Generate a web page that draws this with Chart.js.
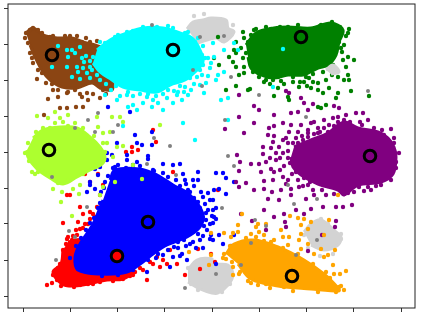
<!DOCTYPE html>
<html>
<head>
<meta charset="utf-8">
<title>Clusters</title>
<script src="https://cdn.jsdelivr.net/npm/chart.js@4"></script>
<style>
  html, body { margin: 0; padding: 0; background: #fff; }
  canvas { display: block; }
</style>
</head>
<body>
<canvas id="chart" width="423" height="315"></canvas>
<script>
/* ================= DATA ================= */
// axes carry no numbers in the picture, so units are read from the lower left corner
// *Solid = outline of the part of a cluster where the dots merge into one mass

const xTicks = [15, 62.25, 109.5, 156.75, 204, 251.25, 298.5, 345.75, 393];
const yTicks = [12, 48, 84, 120, 156, 192, 228, 263, 300];

const silverSolidTop = [[179,279],[185,286],[195,288],[203,290],[218,288],[220,280],[226,276],[216,266],[208,270],[190,265]];
const silverSolidLow = [[180,38],[189,48],[204,49],[203,44],[220,43],[225,33],[220,23],[210,15],[204,15],[192,19],[180,26]];
const silverSolidRight = [[296,76],[303,84],[313,88],[328,76],[333,71],[330,63],[316,58],[303,63]];
const silverSolidSmall = [[318,238],[325,243],[331,236],[323,234]];
const silverDots = [[201,17],[214,16],[180,40],[183,24],[190,18],[222,24],[222,40],[186,292],[196,294],[225,283],
  [313,89],[333,74],[333,69],[296,73],[304,84],[320,84],[300,60],[312,52],[325,54]];
const grayDots = [[144,283],[80,188],[90,195],[110,183],[87,176],[105,176],[67,180],[162,162],[146,170],[194,222],
  [185,238],[192,271],[216,272],[360,217],[251,213],[217,188],[220,152],[223,231],[298,191],[44,131],
  [61,77],[48,48],[79,101],[67,71],[168,133],[139,144],[177,20],[226,142],[214,100],[280,123],
  [286,104],[309,109],[247,88],[258,82],[309,68],[288,53],[233,43],[208,34],[243,65]];

const redSolid = [[60,66],[75,68],[125,40],[125,36],[115,29],[99,28],[80,24],[64,22],[54,24],[45,36],[53,44],[55,58]];
const redDots = [[39,23],[44,25],[49,28],[47,37],[52,44],[57,54],[55,85],[59,69],[64,68],[70,86],
  [72,101],[75,94],[82,96],[69,73],[72,79],[77,84],[82,89],[89,101],[92,94],[87,91],
  [97,106],[92,113],[90,134],[77,134],[59,113],[62,113],[82,126],[95,123],[100,113],[55,26],
  [62,23],[72,23],[80,24],[92,26],[105,28],[115,29],[119,36],[127,36],[139,28],[130,44],
  [145,44],[152,41],[159,44],[169,44],[149,51],[162,58],[165,136],[177,33],[192,39],[190,59],
  [60,71],[145,178],[148,166],[124,161],[124,156],[118,156],[130,158],[210,118],[207,46],[203,54],
  [45,33],[50,40],[53,22],[66,21],[85,24],[105,27],[125,33],[135,38],[55,58],[58,64],
  [65,72],[63,60],[122,32],[80,84],[85,94],[75,80],[68,78],[132,40],[142,46],[155,48]];

const blueSolid = [[102,128],[107,138],[132,139],[149,133],[165,123],[182,113],[195,94],[192,81],[179,71],[159,63],[145,54],[135,46],[119,36],[92,34],[70,38],[67,51],[72,64],[85,84],[95,108]];
const blueDots = [[99,148],[107,141],[119,148],[129,146],[140,149],[145,138],[155,144],[165,143],[172,144],[175,134],
  [190,136],[185,128],[195,111],[202,108],[200,98],[202,84],[199,78],[202,69],[192,68],[185,76],
  [182,64],[174,54],[179,48],[165,51],[162,41],[155,53],[139,36],[82,123],[79,116],[87,119],
  [90,133],[92,141],[87,139],[82,126],[190,128],[177,128],
  [100,201],[122,196],[127,173],[99,155],[109,165],[129,165],[134,163],[144,176],[144,163],[140,152],
  [119,153],[104,153],[208,135],[215,135],[218,130],[226,126],[206,118],[211,119],[218,114],[205,108],
  [205,98],[208,89],[206,91],[203,73],[211,73],[226,73],[215,64],[223,62],[208,44],[205,68],
  [105,140],[118,140],[132,142],[146,137],[160,131],[172,122],[182,116],[190,106],[198,95],[196,82],
  [190,74],[176,68],[166,61],[150,54],[140,48],[125,38],[110,33],[94,32],[80,36],[70,39],
  [62,50],[68,62],[78,78],[86,90],[92,105],[96,120],[205,85],[200,115],[170,60],
  [186,110],[192,100],[180,118],[168,128],[155,135],[100,132],[110,143],[125,143],[97,126],[93,116],
  [90,100],[82,85],[73,70],[185,66],[178,62],[160,58],[195,72],[172,52],[148,50],
  [204,92],[208,100],[197,104],[193,116],[186,122],[178,124],[198,88],[188,60],[195,60],[170,66]];

const brownSolid = [[18,275],[25,280],[35,273],[49,270],[64,270],[75,266],[87,263],[95,260],[109,251],[105,228],[104,218],[92,220],[84,225],[69,220],[54,221],[42,228],[35,236],[27,251],[22,263]];
const brownDots = [[18,275],[22,278],[25,280],[34,275],[42,271],[57,272],[69,272],[74,266],[82,266],[20,265],
  [22,255],[25,245],[29,229],[34,235],[44,224],[45,218],[40,209],[50,211],[59,215],[74,211],
  [79,215],[80,208],[92,210],[95,218],[102,223],[67,218],[52,200],[59,200],[68,201],[75,201],
  [36,193],[107,270],[89,267],[60,216],[72,214],[85,214],[98,214],[50,218],[38,225],[30,238],
  [24,250],[17,270],[30,278],[45,272],[62,272],[78,270],[100,226]];

const limeSolid = [[25,170],[35,178],[52,181],[69,180],[82,171],[92,161],[97,151],[94,144],[82,138],[69,131],[55,124],[42,130],[29,139],[20,151],[19,158]];
const limeDots = [[29,192],[47,196],[40,190],[52,190],[60,193],[55,186],[67,185],[89,191],[90,181],[104,191],
  [112,191],[115,186],[152,183],[95,175],[102,176],[99,165],[109,161],[115,162],[105,151],[35,180],
  [47,185],[24,136],[27,134],[34,138],[45,119],[54,116],[53,106],[64,92],[65,119],[72,123],
  [71,114],[107,126],[95,121],[134,129],[125,143],[92,113],
  [17,155],[21,147],[30,136],[40,134],[50,125],[60,128],[75,134],[88,141],[97,156],[95,165],
  [86,172],[75,180],[60,182],[42,180],[28,176],[20,165]];

const greenSolid = [[238,263],[248,275],[266,280],[280,281],[303,280],[323,285],[335,278],[331,266],[328,253],[320,243],[310,240],[295,233],[280,233],[265,230],[253,233],[243,240],[240,251]];
const greenDots = [[235,276],[243,273],[248,279],[228,266],[236,270],[221,251],[225,246],[228,241],[233,260],[235,250],
  [236,241],[231,233],[236,235],[210,271],[206,250],[211,243],[218,218],[228,222],[240,218],[242,219],
  [251,231],[256,226],[265,228],[273,227],[270,220],[266,212],[280,211],[281,208],[291,221],[301,230],
  [303,220],[310,225],[310,218],[315,215],[321,220],[330,215],[328,210],[310,201],[318,203],[313,200],
  [318,228],[330,231],[336,228],[341,228],[340,233],[343,217],[361,212],[338,241],[335,248],[346,248],
  [340,251],[333,260],[336,263],[341,279],[340,275],[331,266],[324,286],[313,283],[280,281],[263,279],
  [243,264],[238,255],[246,278],[258,281],[272,281],[290,283],[312,282],[332,281],[338,272],[334,256],
  [325,243],[245,236],[258,228],[270,231],[285,231],[298,231],[228,255],[240,266],[226,258],
  [296,226],[305,226],[292,226],[299,222],[305,234],[315,236],[324,233],[262,224],[276,224],[285,226]];

const purpleSolid = [[286,161],[303,168],[320,175],[336,186],[350,180],[370,176],[380,170],[386,161],[388,151],[385,134],[373,126],[350,123],[336,113],[330,118],[310,124],[293,133],[285,141],[283,151]];
const purpleDots = [[231,213],[278,217],[281,215],[293,210],[296,205],[246,202],[251,198],[231,191],[246,185],[266,193],
  [283,195],[290,196],[300,198],[305,204],[326,202],[331,200],[303,185],[316,188],[330,191],[338,193],
  [348,195],[355,195],[360,188],[366,180],[383,179],[376,173],[386,165],[217,179],[236,175],[261,180],
  [266,182],[275,185],[283,183],[293,183],[260,173],[266,172],[281,176],[290,176],[300,178],[310,180],
  [306,186],[321,183],[330,186],[336,188],[265,166],[275,168],[288,170],[300,171],[310,175],[320,176],
  [255,161],[263,160],[271,161],[280,165],[255,154],[229,153],[268,155],[275,155],
  [232,146],[243,144],[251,144],[258,146],[231,137],[253,136],[263,139],[266,136],[275,131],[228,126],
  [238,125],[256,127],[265,128],[278,124],[231,121],[246,118],[256,119],[264,116],[273,118],[283,119],
  [291,121],[300,123],[316,123],[330,123],[341,118],[351,121],[363,118],[383,128],[373,123],[388,146],
  [260,109],[271,108],[283,113],[298,109],[306,113],[318,113],[336,114],[256,98],[266,91],[276,94],
  [288,98],[296,94],[303,99],[315,101],[328,101],[335,101],[344,103],[233,94],[277,86],[244,87],
  [258,78],[278,81],[327,81],[328,87],[300,57],[314,73],
  [280,157],[282,145],[288,136],[296,130],[308,128],[320,122],[340,115],[360,121],[378,130],[388,140],
  [391,155],[386,170],[374,178],[354,183],[330,180],[312,176],[295,168],[285,165],[268,148],[272,138],
  [280,128],[295,122],[305,118],[272,150],[262,150],[278,170],[290,165],[300,175],[325,190],[340,180],
  [294,172],[306,174],[316,180],[326,182],[342,186],[352,186],[280,150],[276,142],[284,134],[290,128],
  [302,126],[314,118],[326,114],[346,116],[356,117],[368,122]];

const orangeSolid = [[218,54],[226,64],[246,68],[270,61],[296,48],[316,34],[331,19],[331,17],[303,19],[270,22],[243,29],[230,44]];
const orangeDots = [[336,18],[331,21],[338,37],[332,34],[326,34],[325,43],[318,36],[316,51],[320,53],[327,58],
  [313,59],[243,25],[250,23],[258,24],[276,21],[225,33],[231,34],[225,41],[218,49],[216,54],
  [223,71],[225,75],[230,76],[230,83],[216,75],[250,84],[248,81],[251,76],[258,84],[243,74],
  [273,78],[275,71],[281,71],[293,83],[290,90],[282,92],[296,89],[303,86],[300,79],[293,74],
  [291,68],[280,63],[293,59],[300,64],[306,54],[321,88],[316,73],[330,113],[234,94],[266,68],
  [256,73],[203,75],[263,66],[248,71],[181,56],[201,43],[203,53],
  [215,50],[222,62],[238,70],[256,67],[275,60],[290,54],[305,44],[322,30],[333,22],[310,16],
  [285,17],[262,20],[240,27],[232,36],[224,46],[328,16]];

const cyanSolid = [[89,258],[102,268],[119,275],[135,280],[155,280],[172,275],[184,270],[192,258],[195,246],[187,236],[177,228],[162,223],[149,216],[132,218],[115,221],[104,228],[92,236],[85,245]];
const cyanDots = [[50,262],[59,258],[64,258],[72,261],[60,251],[67,255],[74,250],[69,241],[59,241],[75,240],
  [82,241],[70,236],[79,235],[64,231],[72,229],[82,230],[89,233],[44,241],[85,251],[92,266],
  [107,271],[119,276],[135,281],[149,281],[165,280],[177,275],[187,266],[194,253],[195,243],[200,250],
  [189,231],[192,223],[196,215],[177,221],[169,213],[159,210],[174,208],[165,205],[145,208],[144,201],
  [155,198],[125,203],[120,201],[129,198],[109,208],[97,213],[175,185],[187,168],[115,182],[139,211],
  [119,213],[185,248],[192,238],[275,259],[205,265],[206,251],[216,258],[226,265],[230,258],[210,233],
  [216,236],[208,228],[213,208],[220,210],[220,188],[265,221],[203,245],
  [78,252],[82,247],[76,246],[84,238],[88,244],[92,228],[98,224],[108,222],[120,216],[132,214],
  [148,212],[160,218],[172,222],[182,230],[190,240],[197,250],[195,262],[190,270],[180,276],[160,282],
  [125,277],[110,273],[97,265],[150,205],[170,216],[183,218],[198,225],[200,232],[202,240],[180,213],
  [135,205],[112,212],[103,218],[125,212],[140,214],[155,214],[166,217],[176,216],[186,224],[194,233]];

const centers = [[44,253],[165,258],[293,271],[41,158],[362,152],[140,86],[109,52],[284,32]];
const centerColors = ["#8b4513", "#00ffff", "#008000", "#adff2f", "#800080", "#0000ff", "#ff0000", "#ffa500"];

/* ================= DATASETS ================= */

const dotSize = 2.2;

function solid(points, color) {
  return {
    data: points,
    showLine: true,
    fill: "shape",
    tension: 0.35,
    backgroundColor: color,
    borderColor: color,
    borderWidth: 3,
    borderJoinStyle: "round",
    pointRadius: 0,
    pointHoverRadius: 0
  };
}

function dots(points, color, radius) {
  return {
    data: points,
    backgroundColor: color,
    borderWidth: 0,
    pointRadius: radius,
    pointHoverRadius: radius
  };
}

// bottom layer first, the order is flipped below for Chart.js
const layers = [
  solid(silverSolidTop, "#d3d3d3"),
  solid(silverSolidLow, "#d3d3d3"),
  solid(silverSolidRight, "#d3d3d3"),
  dots(silverDots, "#d3d3d3", dotSize),
  solid(redSolid, "#ff0000"),
  dots(redDots, "#ff0000", dotSize),
  solid(blueSolid, "#0000ff"),
  dots(blueDots, "#0000ff", dotSize),
  solid(brownSolid, "#8b4513"),
  dots(brownDots, "#8b4513", dotSize),
  solid(limeSolid, "#adff2f"),
  dots(limeDots, "#adff2f", dotSize),
  solid(greenSolid, "#008000"),
  dots(greenDots, "#008000", dotSize),
  solid(silverSolidSmall, "#d3d3d3"),
  solid(purpleSolid, "#800080"),
  dots(purpleDots, "#800080", dotSize),
  solid(orangeSolid, "#ffa500"),
  dots(orangeDots, "#ffa500", dotSize),
  solid(cyanSolid, "#00ffff"),
  dots(cyanDots, "#00ffff", dotSize),
  dots(grayDots, "#808080", 2),
  {
    data: centers,
    backgroundColor: centerColors,
    borderColor: "#000",
    borderWidth: 3,
    pointRadius: 5.8,
    pointHoverRadius: 5.8
  }
];

layers.forEach((d, i) => { d.order = layers.length - i; });

/* ================= CHART ================= */

const frame = {
  id: "frame",
  afterDraw(chart) {
    const a = chart.chartArea;
    const ctx = chart.ctx;
    ctx.save();
    ctx.strokeStyle = "#222";
    ctx.lineWidth = 1;
    ctx.strokeRect(a.left, a.top, a.right - a.left, a.bottom - a.top);
    ctx.restore();
  }
};

function axis(min, max, ticks) {
  return {
    type: "linear",
    min: min,
    max: max,
    afterBuildTicks: scale => { scale.ticks = ticks.map(v => ({ value: v })); },
    ticks: { display: false },
    border: { display: false },
    grid: { drawOnChartArea: false, tickLength: 4, tickColor: "#333" }
  };
}

new Chart(document.getElementById("chart"), {
  type: "scatter",
  data: { datasets: layers },
  options: {
    responsive: false,
    animation: false,
    layout: { autoPadding: false, padding: { left: 4, top: 4, right: 8, bottom: 3 } },
    plugins: {
      legend: { display: false },
      tooltip: { enabled: false }
    },
    scales: {
      x: axis(0, 407, xTicks),
      y: axis(0, 304, yTicks)
    }
  },
  plugins: [frame]
});
</script>
</body>
</html>
